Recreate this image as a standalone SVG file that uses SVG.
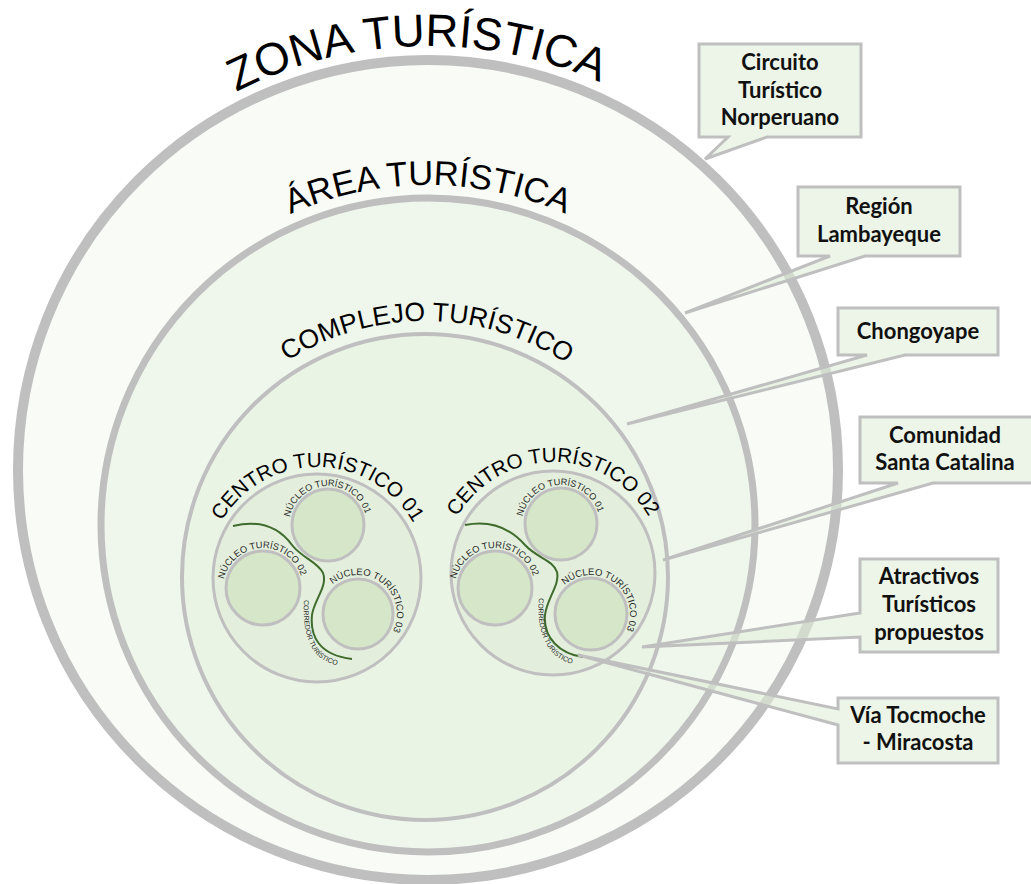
<svg xmlns="http://www.w3.org/2000/svg" xmlns:xlink="http://www.w3.org/1999/xlink" width="1031" height="884" viewBox="0 0 1031 884">
<style>
.ring{stroke:#bfbfbf;}
.lbl{font-family:"Liberation Sans",Arial,sans-serif;fill:#000;}
.small{font-family:"Liberation Sans",Arial,sans-serif;fill:#2a2a2a;}
.nuc{fill:#d5e7c8;stroke:#bfbfbf;stroke-width:3;}
.cen{fill:#e3efdc;stroke:#bfbfbf;stroke-width:3;}
.corr{fill:none;stroke:#3f6b2c;stroke-width:2;}
.call{fill:#e0eed9;fill-opacity:0.6;stroke:#bfbfbf;stroke-width:3;stroke-linejoin:miter;}
.ct{font-family:Lato,"Open Sans",sans-serif;font-weight:bold;font-size:22px;fill:#111;text-anchor:middle;}
</style>
<defs>
<path id="pZona" d="M4,470 A424,424 0 1 1 852,470 A424,424 0 1 1 4,470"/>
<path id="pArea" d="M88,525 A340,340 0 1 1 768,525 A340,340 0 1 1 88,525"/>
<path id="pComp" d="M169,577 A256,256 0 1 1 681,577 A256,256 0 1 1 169,577"/>
<path id="pC1" d="M206,578 A111,111 0 1 1 428,578 A111,111 0 1 1 206,578"/>
<path id="pC2" d="M442,573 A111,111 0 1 1 664,573 A111,111 0 1 1 442,573"/>
<path id="pN11" d="M289,525 A39,39 0 1 1 367,525 A39,39 0 1 1 289,525"/>
<path id="pN12" d="M223,588 A40,40 0 1 1 303,588 A40,40 0 1 1 223,588"/>
<path id="pN13" d="M319,614 A39,39 0 1 1 397,614 A39,39 0 1 1 319,614"/>
<path id="pN21" d="M522,524 A39,39 0 1 1 600,524 A39,39 0 1 1 522,524"/>
<path id="pN22" d="M455,588 A40,40 0 1 1 535,588 A40,40 0 1 1 455,588"/>
<path id="pN23" d="M552,614 A39,39 0 1 1 630,614 A39,39 0 1 1 552,614"/>
<path id="pK1" d="M304,600 C303,620 305,640 316,654 C325,663 338,667 352,667"/>
<path id="pK2" d="M539,598 C537,620 541,640 552,652 C561,662 573,665 584,665"/>
</defs>
<rect width="1031" height="884" fill="#ffffff"/>

<g id="zona-turistica">
<circle class="ring" cx="428" cy="470" r="410" fill="#f8fbf6" stroke-width="10"/>
<text class="lbl" font-size="45.5" text-anchor="middle"><textPath href="#pZona" xlink:href="#pZona" startOffset="24.58%">ZONA TURÍSTICA</textPath></text>
</g>

<g id="area-turistica">
<circle class="ring" cx="428" cy="525" r="327" fill="#eff6eb" stroke-width="7"/>
<text class="lbl" font-size="34.5" text-anchor="middle"><textPath href="#pArea" xlink:href="#pArea" startOffset="25%">ÁREA TURÍSTICA</textPath></text>
</g>

<g id="complejo-turistico">
<circle class="ring" cx="425" cy="577" r="243" fill="#e9f4e5" stroke-width="4"/>
<text class="lbl" font-size="26.5" text-anchor="middle"><textPath href="#pComp" xlink:href="#pComp" startOffset="25.14%">COMPLEJO TURÍSTICO</textPath></text>
</g>

<g id="centro-turistico-01">
<circle class="cen" cx="317" cy="578" r="104"/>
<text class="lbl" font-size="20.5" text-anchor="middle"><textPath href="#pC1" xlink:href="#pC1" startOffset="25.14%">CENTRO TURÍSTICO 01</textPath></text>
</g>

<g id="centro-turistico-02">
<circle class="cen" cx="553" cy="573" r="102"/>
<text class="lbl" font-size="20.5" text-anchor="middle"><textPath href="#pC2" xlink:href="#pC2" startOffset="25%">CENTRO TURÍSTICO 02</textPath></text>
</g>

<g id="c1-nucleo-01">
<circle class="nuc" cx="328" cy="525" r="36"/>
<text class="small" font-size="9.2" text-anchor="middle"><textPath href="#pN11" xlink:href="#pN11" startOffset="24.3%">NÚCLEO TURÍSTICO 01</textPath></text>
</g>
<g id="c1-nucleo-02">
<circle class="nuc" cx="263" cy="588" r="37"/>
<text class="small" font-size="9.3" text-anchor="middle"><textPath href="#pN12" xlink:href="#pN12" startOffset="24.3%">NÚCLEO TURÍSTICO 02</textPath></text>
</g>
<g id="c1-nucleo-03">
<circle class="nuc" cx="358" cy="614" r="35"/>
<text class="small" font-size="9.5" text-anchor="middle"><textPath href="#pN13" xlink:href="#pN13" startOffset="35.5%">NÚCLEO TURÍSTICO 03</textPath></text>
</g>

<g id="c2-nucleo-01">
<circle class="nuc" cx="561" cy="524" r="36"/>
<text class="small" font-size="9.2" text-anchor="middle"><textPath href="#pN21" xlink:href="#pN21" startOffset="24.2%">NÚCLEO TURÍSTICO 01</textPath></text>
</g>
<g id="c2-nucleo-02">
<circle class="nuc" cx="495" cy="588" r="37"/>
<text class="small" font-size="9.3" text-anchor="middle"><textPath href="#pN22" xlink:href="#pN22" startOffset="24.4%">NÚCLEO TURÍSTICO 02</textPath></text>
</g>
<g id="c2-nucleo-03">
<circle class="nuc" cx="591" cy="614" r="36"/>
<text class="small" font-size="9.5" text-anchor="middle"><textPath href="#pN23" xlink:href="#pN23" startOffset="35%">NÚCLEO TURÍSTICO 03</textPath></text>
</g>

<g id="connectors">
<path class="corr" d="M233,526 C258,520 278,526 292,545 C302,558 318,562 323,573 C328,586 314,600 312,615 C310,635 318,655 352,659"/>
<path class="corr" d="M465,525 C490,520 510,528 525,545 C537,558 553,560 557,572 C560,585 547,598 545,615 C543,638 560,654 583,657"/>
<text class="small" font-size="7"><textPath href="#pK1" xlink:href="#pK1">CORREDOR TURÍSTICO</textPath></text>
<text class="small" font-size="7"><textPath href="#pK2" xlink:href="#pK2">CORREDOR TURÍSTICO</textPath></text>
</g>

<g id="callout-circuito">
<path class="call" d="M699,44 H861 V137 H767 L705,159 L728,137 H699 Z"/>
<text class="ct" x="780" y="70">Circuito</text>
<text class="ct" x="780" y="98">Turístico</text>
<text class="ct" x="780" y="125">Norperuano</text>
</g>
<g id="callout-region">
<path class="call" d="M798,187 H960 V256 H865 L685,313 L830,256 H798 Z"/>
<text class="ct" x="879" y="214">Región</text>
<text class="ct" x="879" y="242">Lambayeque</text>
</g>
<g id="callout-chongoyape">
<path class="call" d="M838,308 H998 V355 H905 L627,424 L867,355 H838 Z"/>
<text class="ct" x="918" y="339">Chongoyape</text>
</g>
<g id="callout-comunidad">
<path class="call" d="M860,417 H1036 V483 H933 L663,560 L898,483 H860 Z"/>
<text class="ct" x="945" y="443">Comunidad</text>
<text class="ct" x="945" y="470">Santa Catalina</text>
</g>
<g id="callout-atractivos">
<path class="call" d="M860,559 H998 V652 H860 V637 L642,647 L860,613 Z"/>
<text class="ct" x="929" y="584">Atractivos</text>
<text class="ct" x="929" y="612">Turísticos</text>
<text class="ct" x="929" y="640">propuestos</text>
</g>
<g id="callout-via">
<path class="call" d="M838,698 H998 V763 H838 V725 L578,655 L838,709 Z"/>
<text class="ct" x="918" y="723">Vía Tocmoche</text>
<text class="ct" x="918" y="750">- Miracosta</text>
</g>
</svg>
